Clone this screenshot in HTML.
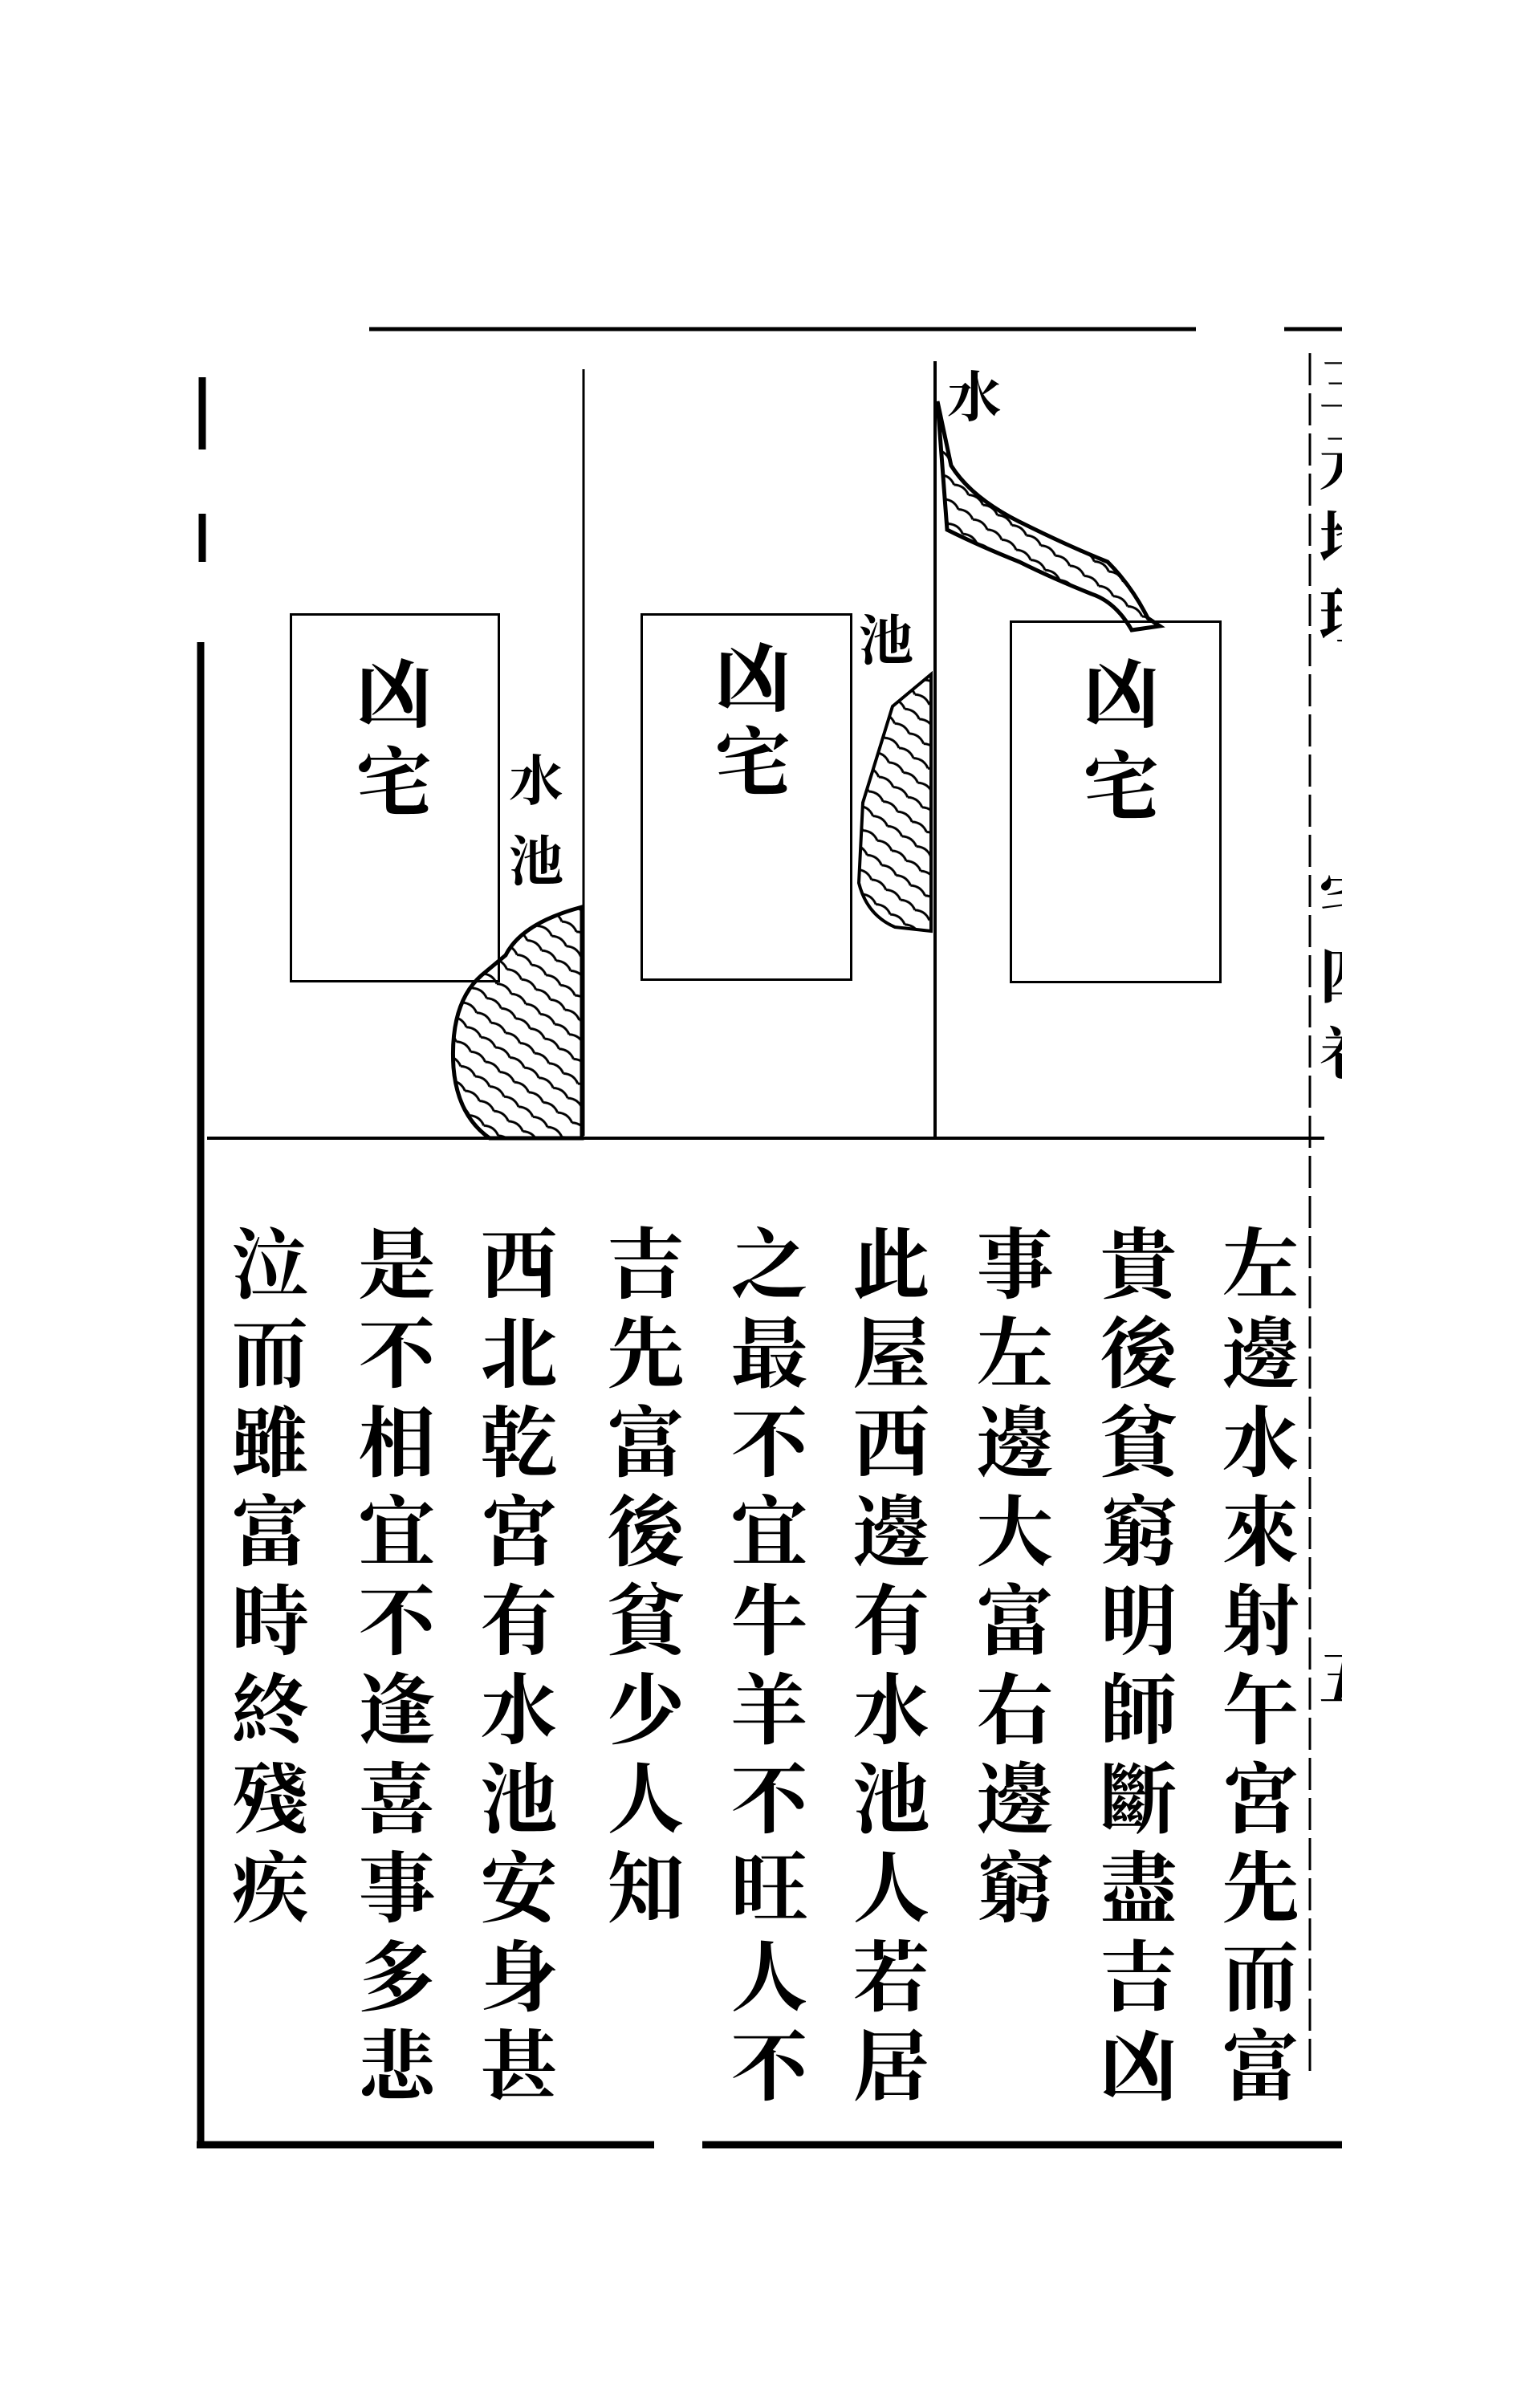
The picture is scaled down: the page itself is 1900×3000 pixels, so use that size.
<!DOCTYPE html>
<html><head><meta charset="utf-8">
<style>
html,body{margin:0;padding:0;background:#fff;}
body{width:1900px;height:3000px;position:relative;overflow:hidden;font-family:"Liberation Serif","Noto Serif CJK SC","Noto Sans CJK SC",serif;color:#000;}
.col{position:absolute;writing-mode:vertical-rl;font-size:96px;letter-spacing:15px;line-height:1;font-weight:700;white-space:nowrap;}
.box{position:absolute;border:3px solid #000;box-sizing:border-box;}
.bt{position:absolute;font-size:94px;line-height:1;font-weight:700;}
.lbl{position:absolute;font-size:68px;line-height:1;font-weight:700;}
</style></head><body>
<svg width="1900" height="3000" style="position:absolute;left:0;top:0">
<defs>
<pattern id="h" width="22" height="22" patternUnits="userSpaceOnUse" patternTransform="rotate(35)">
<path d="M0 11 Q11 4 22 11" stroke="#000" stroke-width="3" fill="none"/>
</pattern>
</defs>
<path d="M460 410 L1490 410 M1600 410 L1672 410" stroke="#000" stroke-width="5"/>
<path d="M252 470 L252 560 M252 640 L252 700 M250 800 L250 2670" stroke="#000" stroke-width="9"/>
<path d="M245 2672 L815 2672 M875 2672 L1672 2672" stroke="#000" stroke-width="9"/>
<path d="M258 1418 L1650 1418" stroke="#000" stroke-width="4"/>
<path d="M727 460 L727 1415" stroke="#000" stroke-width="3"/>
<path d="M1165 450 L1165 1418" stroke="#000" stroke-width="4"/>
<path d="M1632 440 L1632 2590" stroke="#000" stroke-width="3" stroke-dasharray="40 10"/>
<path d="M1168 500 L1185 580 Q1210 620 1270 650 Q1330 680 1380 700 Q1410 730 1430 770 L1445 780 L1410 785 Q1390 750 1360 740 Q1310 720 1270 700 Q1220 680 1180 660 Z" fill="url(#h)" stroke="#000" stroke-width="5"/>
<path d="M1160 840 L1112 880 L1075 1000 L1070 1100 Q1080 1140 1115 1155 L1160 1160 Z" fill="url(#h)" stroke="#000" stroke-width="4"/>
<path d="M725 1130 Q650 1150 630 1190 L600 1215 Q560 1250 565 1330 Q570 1390 610 1418 L725 1418 Z" fill="url(#h)" stroke="#000" stroke-width="5"/>
</svg>

<div class="box" style="left:361px;top:764px;width:262px;height:460px"></div>
<div class="box" style="left:798px;top:764px;width:264px;height:458px"></div>
<div class="box" style="left:1258px;top:773px;width:264px;height:452px"></div>
<div class="bt" style="left:444px;top:820px">凶</div>
<div class="bt" style="left:444px;top:930px">宅</div>
<div class="bt" style="left:891px;top:800px">凶</div>
<div class="bt" style="left:891px;top:905px">宅</div>
<div class="bt" style="left:1350px;top:820px">凶</div>
<div class="bt" style="left:1350px;top:935px">宅</div>

<div class="lbl" style="left:1180px;top:462px">水</div>
<div class="lbl" style="left:1070px;top:765px">池</div>
<div class="lbl" style="left:634px;top:940px">水</div>
<div class="lbl" style="left:634px;top:1040px">池</div>

<div class="col" style="left:1514px;top:1525px">左邊水來射午宮先而富</div>
<div class="col" style="left:1362px;top:1525px">貴後貧窮明師斷盡吉凶</div>
<div class="col" style="left:1208px;top:1525px">事左邊大富右邊窮</div>
<div class="col" style="left:1054px;top:1525px">此屋西邊有水池人若居</div>
<div class="col" style="left:902px;top:1525px">之最不宜牛羊不旺人不</div>
<div class="col" style="left:748px;top:1525px">吉先富後貧少人知</div>
<div class="col" style="left:590px;top:1525px">西北乾宮有水池安身甚</div>
<div class="col" style="left:438px;top:1525px">是不相宜不逢喜事多悲</div>
<div class="col" style="left:280px;top:1525px">泣而雖富時終殘疾</div>

<div style="position:absolute;left:1636px;top:440px;width:36px;height:1120px;overflow:hidden">
<div class="col" style="left:0;top:0;font-size:76px;letter-spacing:20px">三元地理</div>
<div class="col" style="left:0;top:640px;font-size:76px;letter-spacing:20px">宅四卷</div>
</div>
<div style="position:absolute;left:1636px;top:2050px;width:36px;height:90px;overflow:hidden">
<div class="col" style="left:0;top:0;font-size:76px">五</div>
</div>
</body></html>
